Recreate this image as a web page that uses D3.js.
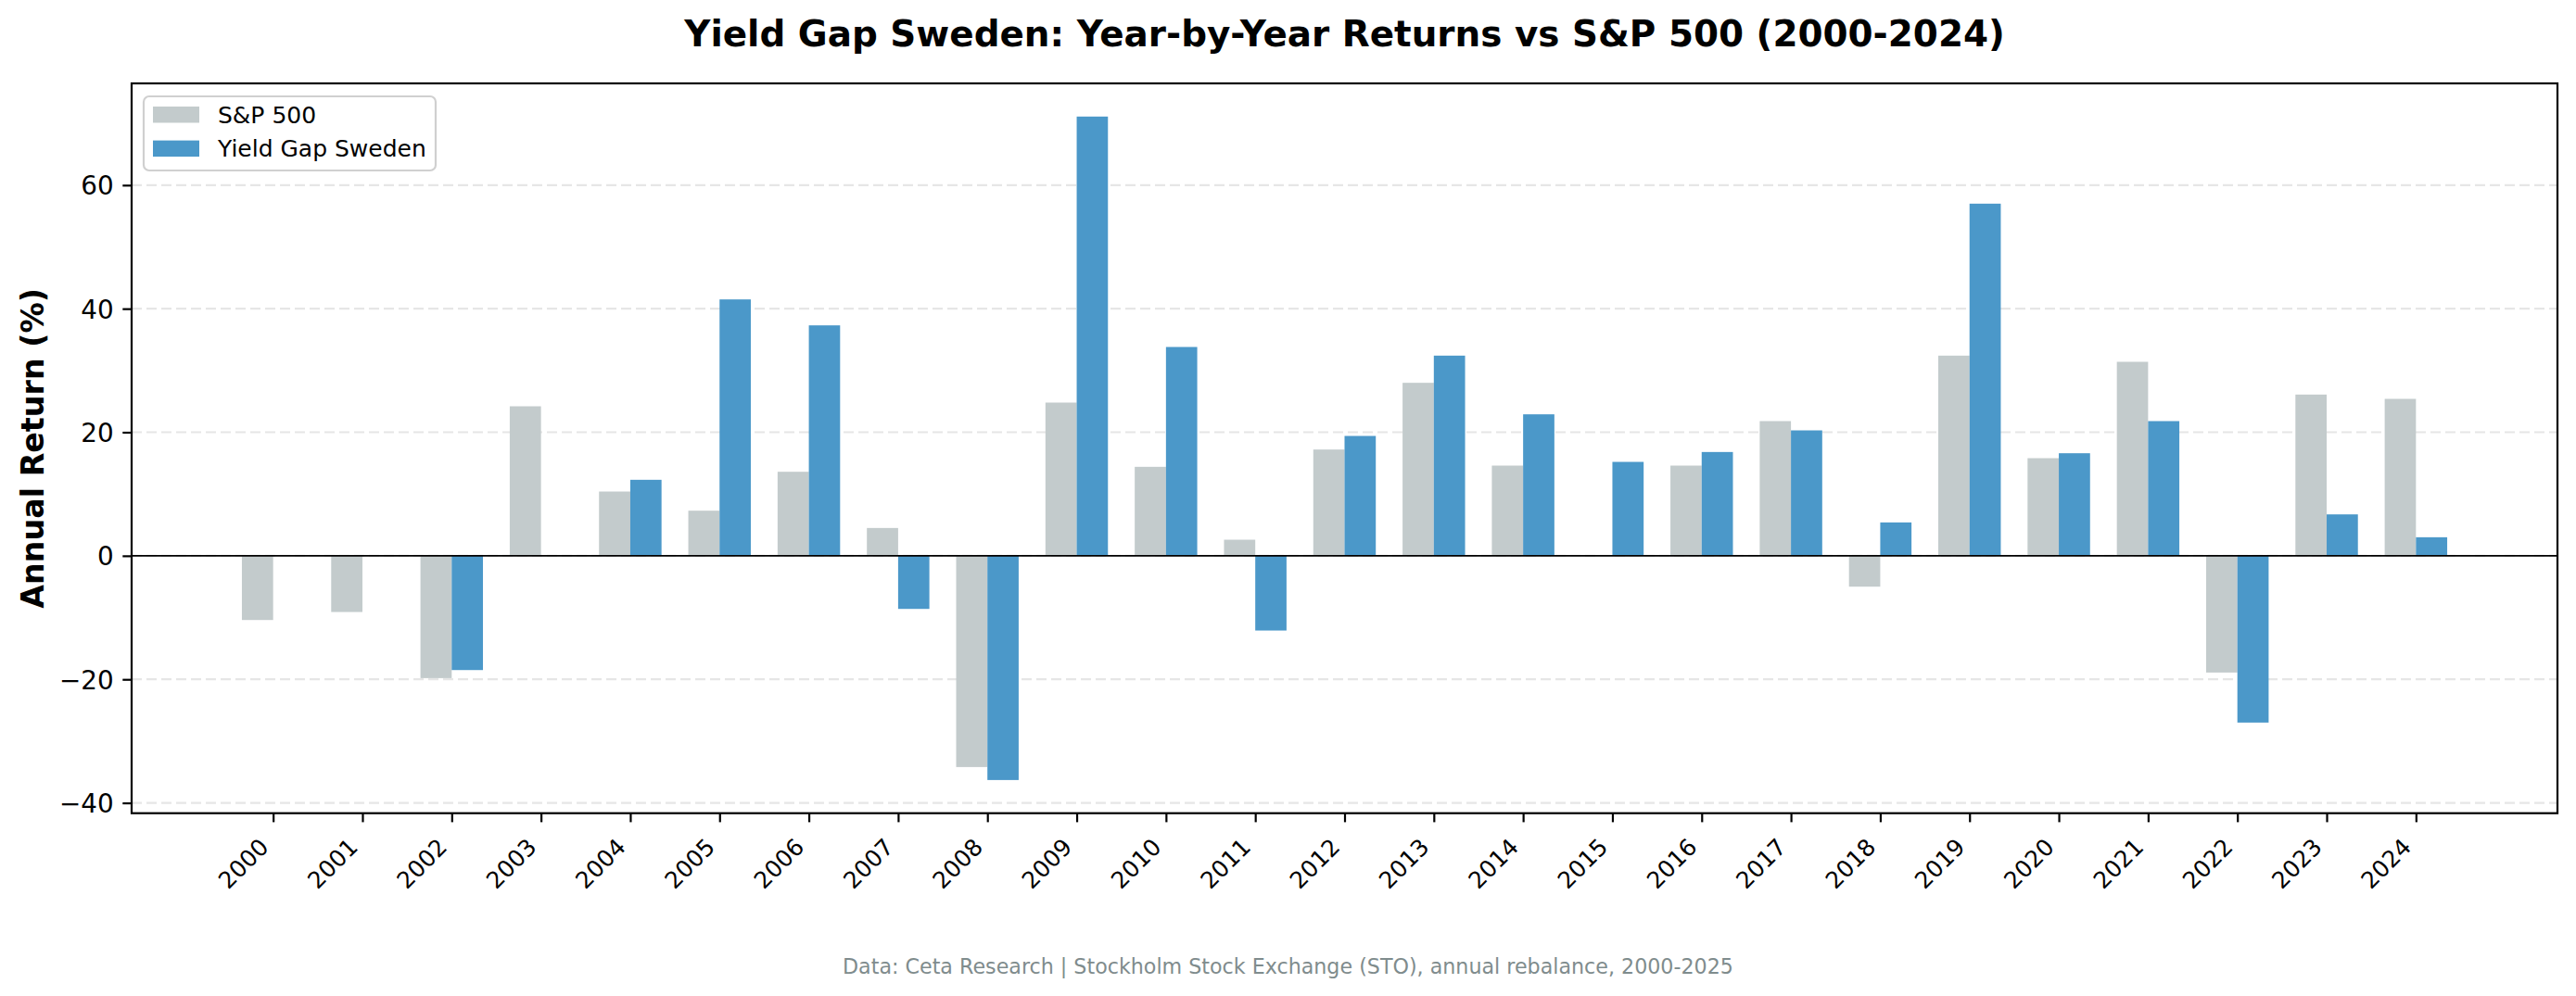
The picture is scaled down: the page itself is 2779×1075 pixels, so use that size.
<!DOCTYPE html>
<html>
<head>
<meta charset="utf-8">
<script src="https://cdn.jsdelivr.net/npm/d3@7"></script>
<style>
  html, body { margin: 0; padding: 0; background: #ffffff; }
  svg { display: block; font-family: "DejaVu Sans", sans-serif; }
</style>
</head>
<body>
<svg id="chart" width="2779" height="1075"></svg>
<script>
// ---- data ----
const years = [2000, 2001, 2002, 2003, 2004, 2005, 2006, 2007, 2008, 2009,
               2010, 2011, 2012, 2013, 2014, 2015, 2016, 2017, 2018, 2019,
               2020, 2021, 2022, 2023, 2024];
const sp500 = [-10.4, -9.1, -19.8, 24.2, 10.4, 7.3, 13.6, 4.5, -34.2, 24.8,
               14.4, 2.6, 17.2, 28.0, 14.6, 0.0, 14.6, 21.8, -5.0, 32.4,
               15.8, 31.4, -18.9, 26.1, 25.4];
const yieldGap = [0.0, 0.0, -18.5, 0.0, 12.3, 41.5, 37.3, -8.6, -36.3, 71.1,
                  33.8, -12.1, 19.4, 32.4, 22.9, 15.2, 16.8, 20.3, 5.4, 57.0,
                  16.6, 21.8, -27.0, 6.7, 3.0];
const yTicks = [-40, -20, 0, 20, 40, 60];
const seriesNames = ["S&P 500", "Yield Gap Sweden"];
const titleText = "Yield Gap Sweden: Year-by-Year Returns vs S&P 500 (2000-2024)";
const yLabelText = "Annual Return (%)";
const footText = "Data: Ceta Research | Stockholm Stock Exchange (STO), annual rebalance, 2000-2025";

// ---- layout ----
const W = 2779, H = 1075;
const plot = { left: 142, right: 2759, top: 90, bottom: 877.7 };
const barW = 0.35;
const colGray = "#c3cbcc";
const colBlue = "#4b98c9";

const svg = d3.select("#chart");

const n = years.length;
const xPad = (n - 1 + 2 * barW) * 0.05;
const x = d3.scaleLinear()
  .domain([-barW - xPad, n - 1 + barW + xPad])
  .range([plot.left, plot.right]);

const allVals = sp500.concat(yieldGap);
const vMin = d3.min(allVals), vMax = d3.max(allVals);
const yPad = (vMax - vMin) * 0.05;
const y = d3.scaleLinear()
  .domain([vMin - yPad, vMax + yPad])
  .range([plot.bottom, plot.top]);

// grid
svg.append("g").selectAll("line").data(yTicks).join("line")
  .attr("x1", plot.left).attr("x2", plot.right)
  .attr("y1", d => y(d)).attr("y2", d => y(d))
  .attr("stroke", "#e6e6e6").attr("stroke-width", 2.2)
  .attr("stroke-dasharray", "11,5");

// bars
const idx = d3.range(n);
svg.append("g").selectAll("rect").data(idx).join("rect")
  .attr("x", i => x(i - barW))
  .attr("width", x(barW) - x(0))
  .attr("y", i => y(Math.max(0, sp500[i])))
  .attr("height", i => Math.abs(y(sp500[i]) - y(0)))
  .attr("fill", colGray);
svg.append("g").selectAll("rect").data(idx).join("rect")
  .attr("x", i => x(i))
  .attr("width", x(barW) - x(0))
  .attr("y", i => y(Math.max(0, yieldGap[i])))
  .attr("height", i => Math.abs(y(yieldGap[i]) - y(0)))
  .attr("fill", colBlue);

// zero line
svg.append("line")
  .attr("x1", plot.left).attr("x2", plot.right)
  .attr("y1", y(0)).attr("y2", y(0))
  .attr("stroke", "#000").attr("stroke-width", 1.6);

// axes
const yAxis = d3.axisLeft(y).tickValues(yTicks).tickSize(9.7).tickPadding(9.7)
  .tickFormat(d3.format("d"));
const gy = svg.append("g").attr("transform", `translate(${plot.left},0)`).call(yAxis);
gy.select(".domain").remove();
gy.selectAll(".tick line").attr("stroke", "#000").attr("stroke-width", 2.2);
gy.selectAll(".tick text").attr("font-size", 27.8).attr("fill", "#000")
  .attr("font-family", "DejaVu Sans").attr("dy", "0.36em");

const xAxis = d3.axisBottom(x).tickValues(idx).tickSize(9.7)
  .tickFormat(i => String(years[i]));
const gx = svg.append("g").attr("transform", `translate(0,${plot.bottom})`).call(xAxis);
gx.select(".domain").remove();
gx.selectAll(".tick line").attr("stroke", "#000").attr("stroke-width", 2.2);
gx.selectAll(".tick text")
  .attr("font-size", 25).attr("fill", "#000").attr("font-family", "DejaVu Sans")
  .attr("x", 0).attr("y", 0).attr("dy", null)
  .attr("text-anchor", "end")
  .attr("transform", "translate(-4,38) rotate(-45)");

// spines
svg.append("rect")
  .attr("x", plot.left).attr("y", plot.top)
  .attr("width", plot.right - plot.left).attr("height", plot.bottom - plot.top)
  .attr("fill", "none").attr("stroke", "#000").attr("stroke-width", 2.2);

// title
svg.append("text")
  .attr("x", (plot.left + plot.right) / 2).attr("y", 50)
  .attr("text-anchor", "middle").attr("font-size", 38.9).attr("font-weight", "bold")
  .attr("fill", "#000").text(titleText);

// y label
svg.append("text")
  .attr("transform", `translate(47,${(plot.top + plot.bottom) / 2}) rotate(-90)`)
  .attr("text-anchor", "middle").attr("font-size", 33.3).attr("font-weight", "bold")
  .attr("fill", "#000").text(yLabelText);

// legend
const lg = svg.append("g");
lg.append("rect").attr("x", 155).attr("y", 104).attr("width", 315).attr("height", 80)
  .attr("rx", 6).attr("fill", "#fff").attr("fill-opacity", 0.8)
  .attr("stroke", "#d0d0d0").attr("stroke-width", 2.2);
const legCols = [colGray, colBlue];
const legRows = lg.selectAll("g.row").data(seriesNames).join("g")
  .attr("class", "row")
  .attr("transform", (d, i) => `translate(0,${i * 36.6})`);
legRows.append("rect").attr("x", 165).attr("y", 115).attr("width", 50).attr("height", 17.5)
  .attr("fill", (d, i) => legCols[i]);
legRows.append("text").attr("x", 235).attr("y", 132.7)
  .attr("font-size", 25).attr("fill", "#000").text(d => d);

// footnote
svg.append("text")
  .attr("x", W / 2).attr("y", 1050.7)
  .attr("text-anchor", "middle").attr("font-size", 22.2).attr("fill", "#7f8c8d")
  .text(footText);
</script>
</body>
</html>
